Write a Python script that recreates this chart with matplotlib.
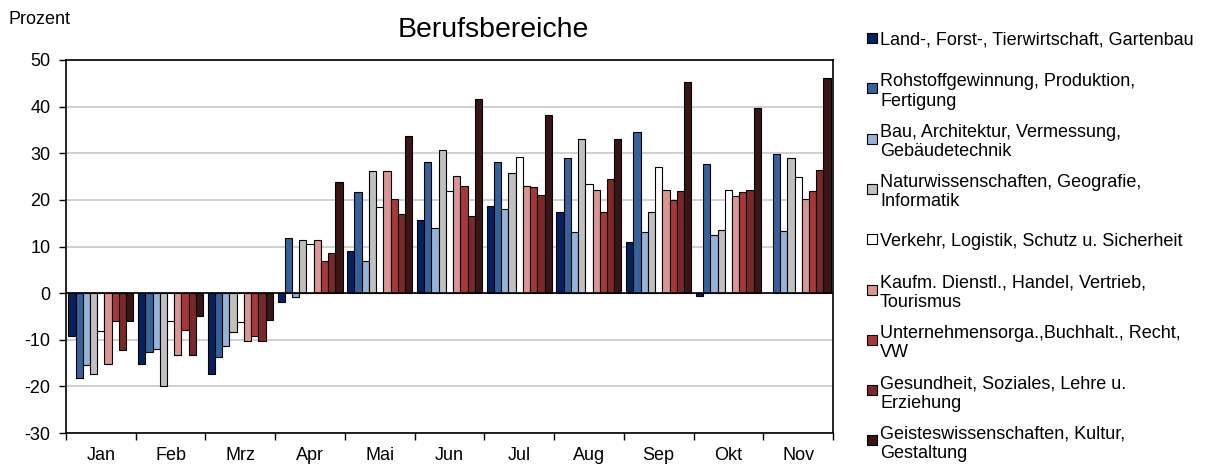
import numpy as np
import matplotlib
matplotlib.use("Agg")
import matplotlib.pyplot as plt
from matplotlib.patches import Rectangle

plt.rcParams['font.family'] = ['Liberation Sans', 'DejaVu Sans']
plt.rcParams['axes.unicode_minus'] = False

months = ["Jan", "Feb", "Mrz", "Apr", "Mai", "Jun", "Jul", "Aug", "Sep", "Okt", "Nov"]

series_names = [
  "Land-, Forst-, Tierwirtschaft, Gartenbau",
  "Rohstoffgewinnung, Produktion,\nFertigung",
  "Bau, Architektur, Vermessung,\nGebäudetechnik",
  "Naturwissenschaften, Geografie,\nInformatik",
  "Verkehr, Logistik, Schutz u. Sicherheit",
  "Kaufm. Dienstl., Handel, Vertrieb,\nTourismus",
  "Unternehmensorga.,Buchhalt., Recht,\nVW",
  "Gesundheit, Soziales, Lehre u.\nErziehung",
  "Geisteswissenschaften, Kultur,\nGestaltung",
]

colors = ["#06215E", "#35629A", "#95B3D7", "#C0C0C0", "#FFFFFF",
          "#DA9694", "#A83838", "#7B2828", "#3A1515"]

land = [-9.1, -15.3, -17.3, -1.9, 9.1, 15.7, 18.7, 17.4, 11.0, -0.7, np.nan]
rohstoff = [-18.1, -12.6, -13.7, 11.8, 21.7, 28.2, 28.1, 28.9, 34.6, 27.6, 29.9]
bau = [-15.4, -11.9, -11.3, -0.9, 6.8, 13.9, 18.1, 13.2, 13.1, 12.4, 13.4]
natur = [-17.3, -19.9, -8.3, 11.3, 26.1, 30.7, 25.7, 33.1, 17.4, 13.6, 28.9]
verkehr = [-8.1, -6.0, -6.3, 10.5, 18.4, 21.9, 29.1, 23.4, 27.1, 22.1, 24.9]
kaufm = [-15.3, -13.3, -10.3, 11.4, 26.1, 25.1, 22.9, 22.1, 22.1, 20.8, 20.1]
unternehmen = [-5.9, -7.9, -9.1, 6.9, 20.1, 23.0, 22.7, 17.4, 19.9, 21.6, 21.8]
gesundheit = [-12.1, -13.3, -10.2, 8.6, 16.9, 16.6, 21.0, 24.5, 21.9, 22.2, 26.5]
geistes = [-6.0, -5.0, -5.7, 23.8, 33.6, 41.7, 38.1, 33.1, 45.2, 39.7, 46.2]

series = [land, rohstoff, bau, natur, verkehr, kaufm, unternehmen, gesundheit, geistes]

fig = plt.figure(figsize=(12.12, 4.70), dpi=100)
ax = fig.add_axes([66/1212, 37/470, 767/1212, 373/470])

x = np.arange(len(months))
w = 0.1036
for i, vals in enumerate(series):
  ax.bar(x + (i - 4) * w, vals, width=w, color=colors[i], edgecolor='black',
         linewidth=0.8, zorder=3)

ax.set_xlim(-0.5, len(months) - 0.5)
ax.set_ylim(-30, 50)
ax.set_yticks(np.arange(-30, 51, 10))
ax.yaxis.grid(True, color='#C8C8C8', linewidth=1.2, zorder=0)
ax.axhline(0, color='black', linewidth=1.2, zorder=4)

ax.set_xticks(x)
ax.set_xticklabels(months)
ax.set_xticks(np.arange(-0.5, len(months), 1.0), minor=True)
ax.tick_params(axis='x', which='major', length=0, pad=10, labelsize=13)
ax.tick_params(axis='x', which='minor', length=5, direction='out', width=1)
ax.tick_params(axis='y', length=5, direction='out', width=1, labelsize=13, pad=6)
for s in ax.spines.values():
  s.set_linewidth(1.2)
  s.set_color('black')

fig.text(9/1212, 1 - 20/470, "Prozent", fontsize=13, va='center', ha='left')
fig.text(493/1212, 1 - 30/470, "Berufsbereiche", fontsize=20.5, va='center', ha='center')

# legend, drawn by hand to keep Excel's spacing
for i, name in enumerate(series_names):
  yc = 38 + 50.3 * i
  fig.add_artist(Rectangle((867/1212, 1 - (yc + 5) / 470), 10/1212, 10/470,
                           transform=fig.transFigure, facecolor=colors[i],
                           edgecolor='black', linewidth=0.8))
  fig.text(880/1212, 1 - yc/470, name, fontsize=13, va='center_baseline',
           ha='left', linespacing=1.2)

fig.savefig("out.png", dpi=100)
